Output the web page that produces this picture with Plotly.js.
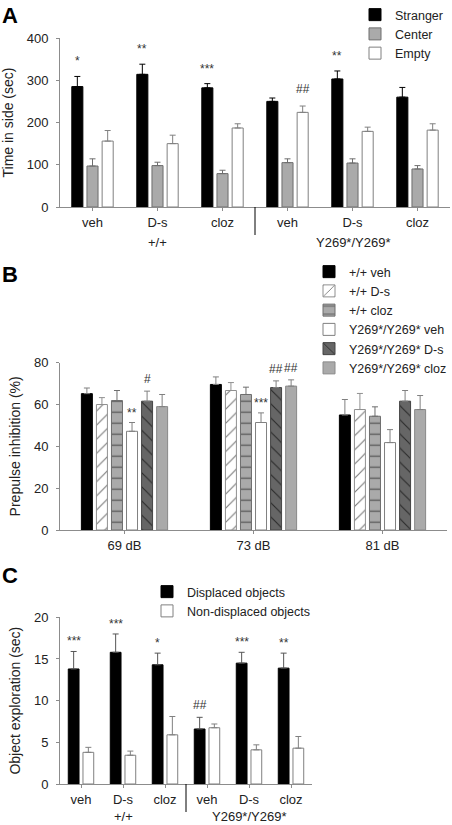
<!DOCTYPE html>
<html><head><meta charset="utf-8">
<script src="https://cdn.plot.ly/plotly-3.0.1.min.js"></script>
<style>html,body{margin:0;padding:0;background:#fff}#chart{width:452px;height:825px}</style>
</head><body><div id="chart"></div>
<script>
// ---------- Panel A : three-chamber test ----------
const conditions = ['veh', 'D-s', 'cloz', 'veh', 'D-s', 'cloz'];
const genotypeLabels = ['+/+', 'Y269*/Y269*'];
const strangerA = [285, 314, 282, 250, 303, 260];
const strangerErrA = [24, 24, 10, 8, 19, 23];
const centerA = [97, 98, 79, 105, 104, 90];
const centerErrA = [17, 8, 8, 9, 10, 8];
const emptyA = [156, 150, 187, 224, 179, 182];
const emptyErrA = [25, 20, 10, 15, 10, 15];
const sigStrangerA = ['*', '**', '***', '', '**', ''];
const sigEmptyA = ['', '', '', '##', '', ''];

// ---------- Panel B : prepulse inhibition ----------
const levelsB = ['69 dB', '73 dB', '81 dB'];
const wtVehB = [65.2, 69.6, 55.0];
const wtVehErrB = [2.7, 3.6, 7.4];
const wtDsB = [60.0, 66.7, 57.6];
const wtDsErrB = [3.3, 3.8, 7.7];
const wtClozB = [61.9, 64.8, 54.4];
const wtClozErrB = [4.8, 3.5, 4.5];
const mutVehB = [47.2, 51.4, 41.8];
const mutVehErrB = [4.2, 4.6, 6.2];
const mutDsB = [61.6, 68.1, 61.6];
const mutDsErrB = [4.8, 3.2, 5.1];
const mutClozB = [59.0, 68.8, 57.6];
const mutClozErrB = [5.8, 3.0, 6.7];
const sigMutVehB = ['**', '***', ''];
const sigMutDsB = ['#', '##', ''];
const sigMutClozB = ['', '##', ''];

// ---------- Panel C : object displacement ----------
const displacedC = [13.8, 15.8, 14.3, 6.6, 14.5, 13.9];
const displacedErrC = [2.1, 2.2, 1.4, 1.4, 1.3, 1.8];
const nonDisplacedC = [3.8, 3.45, 5.9, 6.75, 4.1, 4.3];
const nonDisplacedErrC = [0.6, 0.5, 2.2, 0.45, 0.6, 1.4];
const sigDisplacedC = ['***', '***', '*', '##', '***', '**'];

// ---------- helpers ----------
const FONT = 'Liberation Sans, Arial, sans-serif';
const BARGAP = 0.3;
const W = 452, H = 825;
const idx = arr => arr.map((_, i) => i);
function errUp(arr, color) {
  return {type: 'data', symmetric: false, array: arr, arrayminus: arr.map(() => 0),
          color: color, thickness: 1, width: 3};
}
function bar(name, x, y, err, fill, line, ecol, xa, ya, leg, pattern) {
  const t = {type: 'bar', name: name, x: x, y: y, xaxis: xa, yaxis: ya, legend: leg,
    marker: {color: fill, line: {color: line, width: 1}},
    error_y: errUp(err, ecol)};
  if (pattern) t.marker.pattern = pattern;
  return t;
}
const xsA = idx(conditions);
const xsB = idx(levelsB);

const traces = [
  bar('Stranger', xsA, strangerA, strangerErrA, '#000000', '#000000', '#000000', 'x', 'y', 'legend'),
  bar('Center', xsA, centerA, centerErrA, '#aaaaaa', '#6e6e6e', '#6e6e6e', 'x', 'y', 'legend'),
  bar('Empty', xsA, emptyA, emptyErrA, '#ffffff', '#808080', '#808080', 'x', 'y', 'legend'),

  bar('+/+ veh', xsB, wtVehB, wtVehErrB, '#000000', '#000000', '#808080', 'x2', 'y2', 'legend2'),
  bar('+/+ D-s', xsB, wtDsB, wtDsErrB, '#ffffff', '#909090', '#909090', 'x2', 'y2', 'legend2',
      {shape: '/', fgcolor: '#777777', bgcolor: '#ffffff', size: 10, solidity: 0.11}),
  bar('+/+ cloz', xsB, wtClozB, wtClozErrB, '#aaaaaa', '#6e6e6e', '#6e6e6e', 'x2', 'y2', 'legend2',
      {shape: '-', fgcolor: '#5a5a5a', bgcolor: '#aaaaaa', size: 11, solidity: 0.12}),
  bar('Y269*/Y269* veh', xsB, mutVehB, mutVehErrB, '#ffffff', '#808080', '#808080', 'x2', 'y2', 'legend2'),
  bar('Y269*/Y269* D-s', xsB, mutDsB, mutDsErrB, '#666666', '#444444', '#808080', 'x2', 'y2', 'legend2',
      {shape: '\\', fgcolor: '#2a2a2a', bgcolor: '#666666', size: 10, solidity: 0.11}),
  bar('Y269*/Y269* cloz', xsB, mutClozB, mutClozErrB, '#aaaaaa', '#8a8a8a', '#808080', 'x2', 'y2', 'legend2'),

  bar('Displaced objects', xsA, displacedC, displacedErrC, '#000000', '#000000', '#555555', 'x3', 'y3', 'legend3'),
  bar('Non-displaced objects', xsA, nonDisplacedC, nonDisplacedErrC, '#ffffff', '#808080', '#808080', 'x3', 'y3', 'legend3')
];

// significance annotations placed above the error bars
const annotations = [];
function sig(labels, vals, errs, k, n, xa, ya, shift) {
  const slot = (1 - BARGAP) / n;
  const off = (k - (n - 1) / 2) * slot;
  labels.forEach((s, i) => {
    if (!s) return;
    annotations.push({xref: xa, yref: ya, x: i + off, y: vals[i] + errs[i], text: s,
      showarrow: false, yanchor: 'middle', yshift: shift + (s[0] === '*' ? -2 : 0),
      font: {family: FONT, size: 12, color: '#333'}});
  });
}
sig(sigStrangerA, strangerA, strangerErrA, 0, 3, 'x', 'y', 17);
sig(sigEmptyA, emptyA, emptyErrA, 2, 3, 'x', 'y', 17);
sig(sigMutVehB, mutVehB, mutVehErrB, 3, 6, 'x2', 'y2', 12);
sig(sigMutDsB, mutDsB, mutDsErrB, 4, 6, 'x2', 'y2', 12);
sig(sigMutClozB, mutClozB, mutClozErrB, 5, 6, 'x2', 'y2', 12);
sig(sigDisplacedC, displacedC, displacedErrC, 0, 2, 'x3', 'y3', 12);

// genotype group labels under the condition ticks
function groupLabels(xa, ypx) {
  genotypeLabels.forEach((g, j) => {
    annotations.push({xref: xa, yref: 'paper', x: 1 + 3 * j, y: 1 - ypx / H, text: g,
      showarrow: false, yanchor: 'middle', font: {family: FONT, size: 13, color: '#222'}});
  });
}
groupLabels('x', 242);
groupLabels('x3', 816);

// panel letters
[['A', 15], ['B', 275], ['C', 575]].forEach(([t, y]) => {
  annotations.push({xref: 'paper', yref: 'paper', x: 0, xanchor: 'left', y: 1 - y / H,
    yanchor: 'middle', text: '<b>' + t + '</b>', showarrow: false,
    font: {family: FONT, size: 22, color: '#000'}});
});

// separator lines between genotype groups
const shapes = [
  {type: 'line', xref: 'x', yref: 'paper', x0: 2.5, x1: 2.5, y0: 1 - 207 / H, y1: 1 - 235 / H,
   line: {color: '#000', width: 1}},
  {type: 'line', xref: 'x3', yref: 'paper', x0: 2.5, x1: 2.5, y0: 1 - 784 / H, y1: 1 - 812 / H,
   line: {color: '#000', width: 1}}
];

const tickFont = {family: FONT, size: 13, color: '#222'};
function xaxis(domain, anchor, tickvals, ticktext) {
  return {domain: domain, anchor: anchor, range: [-0.5, tickvals.length - 0.5],
    tickvals: tickvals, ticktext: ticktext, showline: true, linecolor: '#8c8c8c', linewidth: 1,
    ticks: 'outside', ticklen: 3, tickcolor: '#8c8c8c', showgrid: false, zeroline: false,
    tickfont: tickFont, fixedrange: true};
}
function yaxis(domain, anchor, range, dtick, title) {
  return {domain: domain, anchor: anchor, range: range, dtick: dtick, tick0: 0,
    showline: true, linecolor: '#8c8c8c', linewidth: 1, ticks: 'outside', ticklen: 3,
    tickcolor: '#8c8c8c', ticklabelstandoff: 5, showgrid: false, zeroline: false,
    tickfont: tickFont, title: {text: title, font: {family: FONT, size: 14, color: '#222'}, standoff: 10}};
}

const legendCommon = {bgcolor: 'rgba(0,0,0,0)', borderwidth: 0, xanchor: 'left', yanchor: 'top',
  font: {family: FONT, size: 12.5, color: '#222'}, tracegroupgap: 0};

const layout = {
  width: W, height: H, margin: {l: 0, r: 0, t: 0, b: 0},
  paper_bgcolor: '#fff', plot_bgcolor: '#fff',
  barmode: 'group', bargap: BARGAP, bargroupgap: 0.27,
  showlegend: true,
  xaxis: xaxis([60 / W, 450 / W], 'y', xsA, conditions),
  yaxis: yaxis([1 - 207 / H, 1 - 38 / H], 'x', [0, 400], 100, 'Time in side (sec)'),
  xaxis2: xaxis([60 / W, 447 / W], 'y2', xsB, levelsB),
  yaxis2: yaxis([1 - 530 / H, 1 - 362.7 / H], 'x2', [0, 80], 20, 'Prepulse inhibition (%)'),
  xaxis3: xaxis([60 / W, 312 / W], 'y3', xsA, conditions),
  yaxis3: yaxis([1 - 784 / H, 1 - 617.3 / H], 'x3', [0, 20], 5, 'Object exploration (sec)'),
  legend: Object.assign({}, legendCommon, {x: 355 / W, y: 1}),
  legend2: Object.assign({}, legendCommon, {x: 309 / W, y: 1 - 257 / H}),
  legend3: Object.assign({}, legendCommon, {x: 147 / W, y: 1 - 577 / H}),
  annotations: annotations,
  shapes: shapes
};

Plotly.newPlot('chart', traces, layout, {displayModeBar: false, staticPlot: true});
</script>
</body></html>
